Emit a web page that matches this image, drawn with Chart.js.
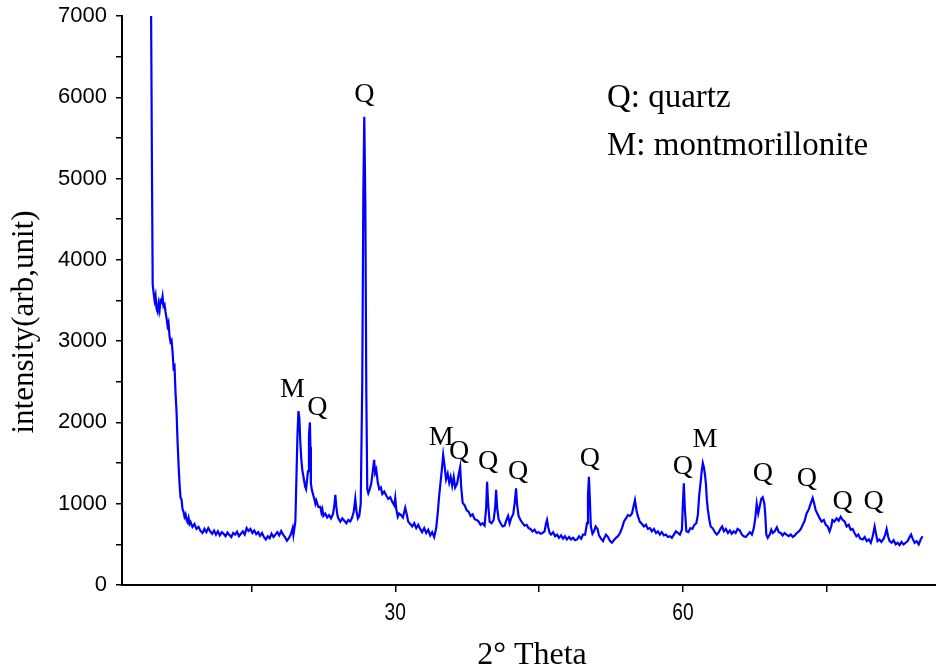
<!DOCTYPE html>
<html>
<head>
<meta charset="utf-8">
<script src="https://cdn.jsdelivr.net/npm/chart.js@4.4.1/dist/chart.umd.min.js"></script>
<style>
    html, body { margin: 0; padding: 0; background: #ffffff; }
    #wrap { width: 936px; height: 672px; }
</style>
</head>
<body>
<div id="wrap"><canvas id="xrdChart" width="936" height="672"></canvas></div>
<script>
// 2-theta positions (degrees)
const theta = [
    4.50, 4.62, 4.70, 4.79, 4.90, 5.00, 5.10, 5.21, 5.31, 5.42, 5.52, 5.63, 5.73, 5.83, 5.94, 6.04, 6.15, 6.25, 6.35, 6.46,
    6.56, 6.67, 6.77, 6.88, 6.98, 7.08, 7.19, 7.29, 7.40, 7.50, 7.60, 7.71, 7.81, 7.92, 8.02, 8.13, 8.23, 8.33, 8.44, 8.54,
    8.65, 8.85, 9.06, 9.27, 9.48, 9.69, 9.90, 10.1, 10.3, 10.5, 10.7, 10.9, 11.1, 11.3, 11.5, 11.7, 11.9, 12.1, 12.3, 12.5,
    12.7, 12.9, 13.1, 13.3, 13.5, 13.7, 13.9, 14.1, 14.3, 14.5, 14.7, 14.9, 15.1, 15.3, 15.5, 15.7, 15.9, 16.1, 16.3, 16.5,
    16.7, 16.9, 17.1, 17.3, 17.5, 17.7, 17.9, 18.1, 18.3, 18.5, 18.7, 18.9, 19.1, 19.3, 19.38, 19.58, 19.69, 19.79, 19.90, 20.0,
    20.1, 20.2, 20.3, 20.4, 20.5, 20.6, 20.7, 20.9, 21.0, 21.1, 21.15, 21.2, 21.3, 21.46, 21.56, 21.67, 21.77, 21.98, 22.19, 22.3,
    22.4, 22.5, 22.7, 22.9, 23.1, 23.3, 23.5, 23.65, 23.75, 23.85, 23.96, 24.06, 24.27, 24.48, 24.69, 24.9, 25.1, 25.3, 25.5, 25.67,
    25.83, 25.94, 26.1, 26.25, 26.4, 26.56, 26.67, 26.77, 26.88, 26.98, 27.08, 27.19, 27.34, 27.5, 27.66, 27.8, 27.9, 28.02, 28.18, 28.33,
    28.5, 28.65, 28.85, 29.06, 29.27, 29.48, 29.7, 29.9, 30.0, 30.1, 30.26, 30.4, 30.6, 30.8, 31.04, 31.2, 31.35, 31.56, 31.77, 31.98,
    32.19, 32.4, 32.6, 32.8, 33.02, 33.23, 33.44, 33.65, 33.85, 34.06, 34.27, 34.43, 34.58, 34.8, 35.0, 35.16, 35.3, 35.47, 35.63, 35.78,
    35.94, 36.1, 36.25, 36.46, 36.6, 36.77, 36.88, 37.03, 37.24, 37.45, 37.66, 37.86, 38.07, 38.28, 38.49, 38.7, 38.9, 39.1, 39.32, 39.48,
    39.58, 39.69, 39.84, 40.05, 40.26, 40.42, 40.52, 40.63, 40.78, 40.99, 41.2, 41.4, 41.6, 41.77, 41.93, 42.08, 42.3, 42.45, 42.6, 42.7,
    42.86, 43.07, 43.28, 43.49, 43.7, 43.9, 44.1, 44.32, 44.53, 44.74, 44.95, 45.16, 45.36, 45.57, 45.73, 45.83, 45.94, 46.1, 46.25, 46.46,
    46.67, 46.88, 47.08, 47.29, 47.5, 47.7, 47.9, 48.13, 48.33, 48.54, 48.75, 48.96, 49.17, 49.4, 49.58, 49.8, 50.0, 50.1, 50.2, 50.3,
    50.4, 50.57, 50.73, 50.9, 51.1, 51.25, 51.46, 51.67, 51.8, 51.98, 52.19, 52.4, 52.6, 52.8, 53.02, 53.23, 53.44, 53.65, 53.85, 54.06,
    54.27, 54.48, 54.69, 54.84, 55.0, 55.16, 55.3, 55.5, 55.73, 55.94, 56.15, 56.35, 56.56, 56.77, 56.98, 57.2, 57.4, 57.6, 57.8, 58.02,
    58.23, 58.44, 58.65, 58.85, 59.06, 59.27, 59.48, 59.69, 59.9, 60.0, 60.1, 60.2, 60.36, 60.57, 60.78, 60.99, 61.2, 61.4, 61.56, 61.7,
    61.88, 61.98, 62.08, 62.19, 62.3, 62.4, 62.5, 62.6, 62.76, 62.9, 63.1, 63.33, 63.54, 63.75, 63.96, 64.1, 64.27, 64.48, 64.7, 64.9,
    65.1, 65.3, 65.5, 65.7, 65.94, 66.15, 66.35, 66.56, 66.77, 66.98, 67.2, 67.4, 67.55, 67.7, 67.86, 68.0, 68.18, 68.33, 68.5, 68.6,
    68.7, 68.85, 69.06, 69.22, 69.38, 69.58, 69.8, 70.0, 70.2, 70.4, 70.6, 70.8, 71.04, 71.25, 71.46, 71.67, 71.88, 72.1, 72.3, 72.5,
    72.7, 72.9, 73.13, 73.33, 73.54, 73.7, 73.85, 74.06, 74.27, 74.48, 74.7, 74.9, 75.1, 75.3, 75.47, 75.6, 75.8, 76.04, 76.25, 76.46,
    76.67, 76.88, 77.08, 77.3, 77.5, 77.7, 77.9, 78.1, 78.3, 78.5, 78.75, 78.96, 79.17, 79.4, 79.6, 79.8, 80.0, 80.16, 80.3, 80.5,
    80.7, 80.94, 81.1, 81.25, 81.4, 81.56, 81.77, 81.98, 82.19, 82.4, 82.6, 82.8, 83.02, 83.23, 83.44, 83.65, 83.8, 83.96, 84.17, 84.38,
    84.6, 84.8, 85.0
];

// measured intensity (arb. unit)
const intensity = [
    7800, 5200, 3700, 3600, 3500, 3560, 3400, 3360, 3460, 3380, 3500, 3480, 3550, 3430, 3450, 3360, 3280, 3190, 3230, 3060,
    2990, 3010, 2870, 2670, 2690, 2370, 2130, 1780, 1480, 1250, 1080, 1050, 935, 900, 840, 870, 800, 775, 825, 750,
    775, 715, 750, 690, 715, 665, 640, 690, 650, 700, 660, 630, 670, 620, 660, 610, 650, 630, 600, 645,
    615, 590, 640, 620, 655, 600, 630, 660, 620, 700, 665, 690, 640, 670, 625, 650, 605, 640, 590, 560,
    600, 575, 630, 590, 620, 650, 610, 665, 620, 590, 545, 575, 620, 700, 615, 775, 1300, 1800, 2140, 2050,
    1750, 1550, 1420, 1350, 1280, 1210, 1180, 1400, 1850, 2000, 1700, 1250, 1170, 1100, 1060, 1000, 1040, 960, 960, 890,
    930, 850, 880, 830, 860, 820, 870, 980, 1110, 970, 860, 820, 780, 820, 790, 760, 800, 780, 830, 900,
    1060, 920, 820, 850, 1000, 2500, 4800, 5760, 4700, 2400, 1180, 1130, 1180, 1250, 1400, 1540, 1380, 1420, 1260, 1180,
    1200, 1120, 1150, 1100, 1060, 1080, 1020, 980, 1070, 940, 840, 880, 860, 830, 950, 870, 780, 750, 720, 760,
    700, 740, 690, 650, 700, 640, 680, 610, 650, 590, 700, 880, 1100, 1350, 1600, 1450, 1300, 1370, 1260, 1330,
    1220, 1330, 1200, 1250, 1350, 1450, 1200, 1010, 980, 920, 900, 850, 870, 810, 800, 780, 740, 760, 730, 950,
    1270, 1000, 780, 760, 800, 950, 1170, 950, 810, 760, 720, 730, 800, 850, 760, 820, 870, 1000, 1190, 1000,
    850, 800, 760, 730, 740, 700, 690, 660, 680, 640, 650, 630, 640, 660, 760, 800, 720, 640, 620, 650,
    600, 620, 580, 610, 570, 600, 560, 590, 560, 580, 550, 560, 600, 570, 620, 620, 760, 1100, 1330, 1050,
    720, 630, 660, 720, 690, 610, 570, 540, 580, 620, 590, 540, 520, 550, 580, 600, 640, 700, 780, 820,
    860, 850, 880, 960, 1045, 920, 850, 780, 750, 720, 740, 690, 700, 660, 690, 640, 660, 620, 650, 610,
    620, 590, 600, 580, 620, 660, 640, 620, 680, 1000, 1250, 950, 660, 650, 700, 690, 740, 760, 860, 1100,
    1300, 1420, 1500, 1450, 1360, 1250, 1050, 930, 800, 720, 700, 650, 620, 650, 700, 720, 660, 690, 640, 670,
    630, 660, 640, 690, 670, 620, 600, 590, 620, 650, 620, 700, 820, 1000, 880, 960, 1060, 1080, 1000, 850,
    620, 580, 620, 680, 640, 660, 710, 650, 640, 610, 640, 620, 600, 620, 590, 610, 640, 660, 690, 740,
    790, 880, 930, 1000, 1070, 1000, 920, 870, 820, 780, 800, 740, 720, 660, 720, 800, 780, 820, 790, 840,
    800, 780, 720, 740, 680, 690, 640, 600, 620, 570, 560, 590, 540, 560, 520, 600, 720, 620, 540, 560,
    530, 570, 620, 690, 600, 540, 520, 550, 500, 520, 490, 530, 500, 520, 540, 590, 620, 570, 520, 540,
    500, 560, 600
];

// axis ticks
const xTicks = [15, 30, 45, 60, 75];
const xTickLabels = [30, 60];
const yTickStep = 500;
const yLabelStep = 1000;

// axis titles
const xTitle = '2° Theta';
const yTitle = 'intensity(arb,unit)';

// peak markers
const peakNames = ['Q', 'M', 'Q', 'M', 'Q', 'Q', 'Q', 'Q', 'Q', 'M', 'Q', 'Q', 'Q', 'Q'];
const peakTheta = [26.77, 19.27, 21.88, 34.79, 36.67, 39.69, 42.81, 50.31, 60.0, 62.29, 68.33, 72.92, 76.67, 79.9];
const peakLevel = [6027, 2399, 2177, 1808, 1636, 1513, 1390, 1550, 1451, 1784, 1365, 1304, 1021, 1021];

// phase key
const keyLines = ['Q: quartz', 'M: montmorillonite'];
const keyTheta = 52.08;
const keyLevel = [5990, 5400];

const serif = '"Liberation Serif", "Times New Roman", serif';

// Draw x tick numbers (condensed), axis titles, peak letters and phase key
const labelPlugin = {
    id: 'peakLabels',
    afterDraw(chart) {
        const ctx = chart.ctx;
        const xs = chart.scales.x;
        const ys = chart.scales.y;
        const area = chart.chartArea;
        ctx.save();
        ctx.fillStyle = '#000000';
        ctx.textAlign = 'center';
        ctx.textBaseline = 'middle';

        // x tick numbers, narrow face
        ctx.font = '24px "Liberation Sans", Arial, sans-serif';
        xTickLabels.forEach(v => {
            ctx.save();
            ctx.translate(xs.getPixelForValue(v), area.bottom + 28);
            ctx.scale(0.8, 1);
            ctx.fillText(String(v), 0, 0);
            ctx.restore();
        });

        // axis titles
        ctx.font = '32px ' + serif;
        ctx.fillText(xTitle, 532, 656);
        ctx.save();
        ctx.translate(25, 322);
        ctx.rotate(-Math.PI / 2);
        ctx.font = '31px ' + serif;
        ctx.fillText(yTitle, 0, 0);
        ctx.restore();

        // peak letters
        ctx.font = '28px ' + serif;
        peakNames.forEach((name, i) => {
            ctx.fillText(name, xs.getPixelForValue(peakTheta[i]), ys.getPixelForValue(peakLevel[i]));
        });

        // key
        ctx.font = '33px ' + serif;
        ctx.textAlign = 'left';
        keyLines.forEach((line, i) => {
            ctx.fillText(line, xs.getPixelForValue(keyTheta), ys.getPixelForValue(keyLevel[i]));
        });
        ctx.restore();
    }
};

function initChart() {
    const ctx = document.getElementById('xrdChart').getContext('2d');

    new Chart(ctx, {
        type: 'line',
        data: {
            datasets: [{
                data: theta.map((t, i) => ({ x: t, y: intensity[i] })),
                borderColor: '#0000ff',
                borderWidth: 2.2,
                pointRadius: 0,
                tension: 0,
                fill: false
            }]
        },
        options: {
            responsive: false,
            animation: false,
            devicePixelRatio: 1,
            layout: { padding: { top: 16, right: 0, left: 0, bottom: 0 } },
            plugins: {
                legend: { display: false },
                tooltip: { enabled: false }
            },
            scales: {
                x: {
                    type: 'linear',
                    position: 'bottom',
                    min: 1.5,
                    max: 86.4,
                    afterBuildTicks: (scale) => {
                        scale.ticks = xTicks.map(v => ({ value: v }));
                    },
                    afterFit: (scale) => {
                        scale.height = 87;
                        scale.paddingLeft = 0;
                        scale.paddingRight = 0;
                    },
                    grid: {
                        drawOnChartArea: false,
                        drawTicks: true,
                        tickLength: 7,
                        color: '#000000',
                        lineWidth: 1.5
                    },
                    border: { display: true, color: '#000000', width: 2 },
                    ticks: {
                        color: '#000000',
                        maxRotation: 0,
                        autoSkip: false,
                        font: { size: 12 },
                        callback: () => ''
                    }
                },
                y: {
                    min: 0,
                    max: 7000,
                    afterFit: (scale) => {
                        scale.width = 122;
                        scale.paddingTop = 0;
                        scale.paddingBottom = 0;
                    },
                    grid: {
                        drawOnChartArea: false,
                        drawTicks: true,
                        tickLength: 6,
                        color: '#000000',
                        lineWidth: 1.5
                    },
                    border: { display: true, color: '#000000', width: 2 },
                    ticks: {
                        stepSize: yTickStep,
                        color: '#000000',
                        padding: 9,
                        autoSkip: false,
                        font: { family: '"Liberation Sans", Arial, sans-serif', size: 22 },
                        callback: (v) => v % yLabelStep === 0 ? String(v) : ''
                    }
                }
            }
        },
        plugins: [labelPlugin]
    });
}

document.addEventListener('DOMContentLoaded', initChart);
</script>
</body>
</html>
